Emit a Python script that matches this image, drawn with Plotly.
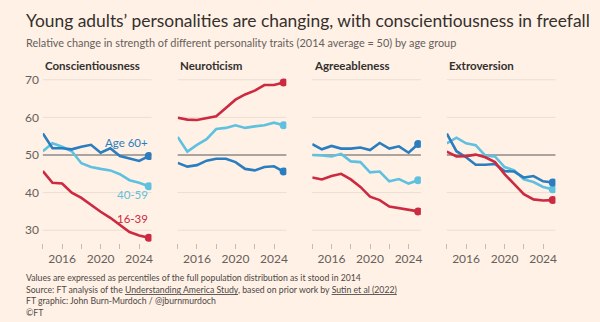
import plotly.graph_objects as go

years = list(range(2014, 2026))
panels = ["Conscientiousness", "Neuroticism", "Agreeableness", "Extroversion"]
groups = ["40-59", "Age 60+", "16-39"]

consc_60 = [55.7, 51.8, 51.8, 51.5, 52.2, 52.7, 50.6, 51.8, 49.7, 49.0, 48.4, 49.7]
consc_40 = [51.0, 53.1, 52.2, 51.0, 47.8, 46.8, 46.3, 45.9, 44.9, 43.3, 42.6, 41.7]
consc_16 = [45.7, 42.6, 42.4, 40.0, 38.6, 36.7, 34.9, 33.3, 31.4, 29.5, 28.6, 28.0]

neuro_60 = [47.9, 46.9, 47.3, 48.5, 49.0, 49.0, 48.1, 46.3, 45.9, 46.8, 47.0, 45.6]
neuro_40 = [54.8, 50.9, 52.7, 54.2, 56.9, 57.2, 57.9, 57.2, 57.6, 57.9, 58.6, 57.9]
neuro_16 = [59.9, 59.4, 59.3, 59.7, 60.3, 62.5, 64.7, 66.1, 67.1, 68.6, 68.6, 69.3]

agree_60 = [52.9, 51.5, 52.4, 51.7, 51.7, 52.0, 51.3, 53.2, 51.7, 52.3, 50.6, 52.9]
agree_40 = [50.0, 49.9, 49.6, 50.3, 48.3, 48.1, 45.4, 45.6, 43.0, 43.6, 42.4, 43.3]
agree_16 = [44.0, 43.5, 44.4, 45.0, 43.5, 41.5, 38.9, 38.0, 36.3, 35.9, 35.4, 35.0]

extro_60 = [55.7, 51.0, 49.4, 47.4, 47.4, 47.6, 45.7, 45.6, 44.0, 44.4, 43.0, 42.7]
extro_40 = [53.1, 54.6, 53.1, 52.6, 49.8, 49.6, 46.8, 45.9, 43.5, 42.8, 41.5, 40.9]
extro_16 = [50.9, 49.6, 49.7, 50.1, 49.4, 48.1, 44.9, 42.2, 39.6, 38.2, 37.9, 38.0]

data = {
    "Conscientiousness": {"40-59": consc_40, "Age 60+": consc_60, "16-39": consc_16},
    "Neuroticism": {"40-59": neuro_40, "Age 60+": neuro_60, "16-39": neuro_16},
    "Agreeableness": {"40-59": agree_40, "Age 60+": agree_60, "16-39": agree_16},
    "Extroversion": {"40-59": extro_40, "Age 60+": extro_60, "16-39": extro_16},
}

BASELINE = 50
y_ticks = [30, 40, 50, 60, 70]
x_ticks = [2014, 2016, 2018, 2020, 2022, 2024]
x_ticktext = ["", "2016", "", "2020", "", "2024"]

colors = {"Age 60+": "#2a7dbf", "40-59": "#5ec1e0", "16-39": "#cc2a40"}

BG = "#fff1e5"
FONT = "Lato"
W, H = 600, 322

fig = go.Figure()

left_px = [43, 178.3, 313.3, 448.3]
width_px = 109
y_dom = [1 - 242 / H, 1 - 72.9 / H]

for i, p in enumerate(panels):
    n = "" if i == 0 else str(i + 1)
    xa = "x" + n
    ya = "y" + n
    for g in groups:
        vals = data[p][g]
        fig.add_trace(go.Scatter(
            x=years, y=vals, mode="lines", xaxis=xa, yaxis=ya,
            line=dict(color=colors[g], width=2.6), showlegend=False,
            hoverinfo="skip"))
        fig.add_trace(go.Scatter(
            x=[years[-1]], y=[vals[-1]], mode="markers", xaxis=xa, yaxis=ya,
            marker=dict(color=colors[g], size=8), showlegend=False,
            hoverinfo="skip"))
    d0 = left_px[i] / W
    d1 = (left_px[i] + width_px) / W
    fig.layout["xaxis" + n] = dict(
        domain=[d0, d1], range=[2014, 2025.28], tickvals=x_ticks,
        ticktext=x_ticktext, ticks="outside", ticklen=5, tickwidth=1,
        tickcolor="#c8bcb2", showgrid=False, zeroline=False, showline=False,
        tickfont=dict(family=FONT, size=12, color="#66605c"), anchor=ya,
        fixedrange=True)
    fig.layout["yaxis" + n] = dict(
        domain=y_dom, range=[26.6, 71], tickvals=y_ticks,
        showticklabels=(i == 0), showgrid=False, zeroline=False,
        showline=False, anchor=xa,
        tickfont=dict(family=FONT, size=12, color="#66605c"),
        ticklabelstandoff=3, fixedrange=True)
    for yv in y_ticks:
        if yv == BASELINE:
            continue
        fig.add_shape(type="line", xref=xa + " domain", yref=ya, x0=0, x1=1,
                      y0=yv, y1=yv, line=dict(color="#eaded2", width=1),
                      layer="below")
    fig.add_shape(type="line", xref=xa + " domain", yref=ya, x0=0, x1=1,
                  y0=BASELINE, y1=BASELINE,
                  line=dict(color="#8f8985", width=1.6), layer="below")
    fig.add_annotation(text="<b>" + p + "</b>", xref="paper", yref="paper",
                       x=d0, y=1 - 62 / H, xanchor="left", yanchor="middle",
                       showarrow=False,
                       font=dict(family=FONT, size=11.5, color="#33302e"))

# Series labels in first panel
labels = [("Age 60+", 2022.7, 53.3), ("40-59", 2023.3, 39.6), ("16-39", 2023.3, 33.0)]
for g, lx, ly in labels:
    fig.add_annotation(text=g, x=lx, y=ly, xref="x", yref="y", showarrow=False,
                       xanchor="center", yanchor="middle",
                       font=dict(family=FONT, size=11.5, color=colors[g]))

fig.add_annotation(text="Young adults’ personalities are changing, with conscientiousness in freefall",
                   xref="paper", yref="paper", x=24 / W, y=1 - 17 / H,
                   xanchor="left", yanchor="middle", showarrow=False,
                   font=dict(family=FONT, size=17.4, color="#33302e"))
fig.add_annotation(text="Relative change in strength of different personality traits (2014 average = 50) by age group",
                   xref="paper", yref="paper", x=24 / W, y=1 - 39 / H,
                   xanchor="left", yanchor="middle", showarrow=False,
                   font=dict(family=FONT, size=10.9, color="#66605c"))

footer = [
    "Values are expressed as percentiles of the full population distribution as it stood in 2014",
    "Source: FT analysis of the <u>Understanding America Study</u>, based on prior work by <u>Sutin et al (2022)</u>",
    "FT graphic: John Burn-Murdoch / @jburnmurdoch",
    "©FT",
]
for k, t in enumerate(footer):
    fig.add_annotation(text=t, xref="paper", yref="paper", x=24 / W,
                       y=1 - (276.7 + 12 * k) / H, xanchor="left",
                       yanchor="middle", showarrow=False,
                       font=dict(family=FONT, size=8.7, color="#4d4845"))

fig.update_layout(width=W, height=H, margin=dict(l=0, r=0, t=0, b=0),
                  paper_bgcolor=BG, plot_bgcolor=BG, showlegend=False)

fig.write_html("out.html")
